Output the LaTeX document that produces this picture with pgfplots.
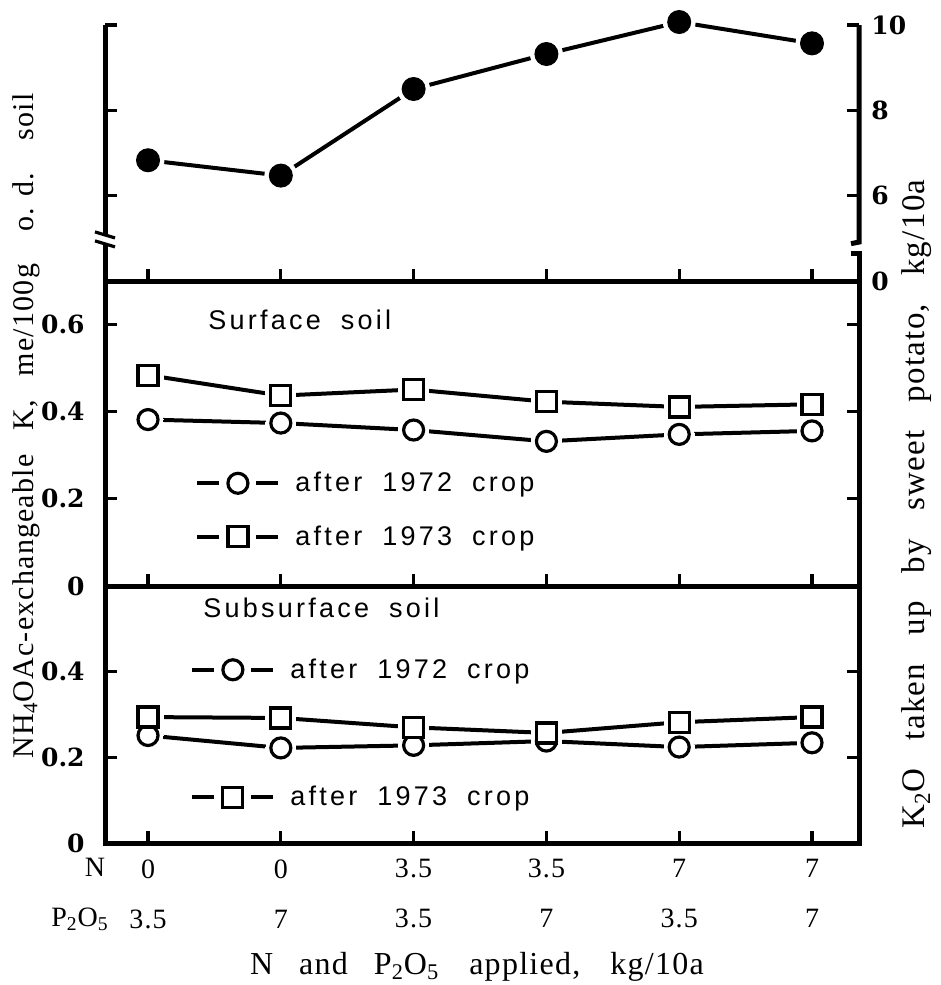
\documentclass[border=0pt]{standalone}
\usepackage{fontspec}
\setmainfont{Liberation Serif}
\newfontfamily\labfont[LetterSpace=12]{Liberation Sans}
\newfontfamily\tickfont{DejaVu Serif}
\newfontfamily\axfont[LetterSpace=4]{Liberation Serif}
\usepackage{pgfplots}
\usepackage{pgfplotstable}
\pgfplotsset{compat=1.18}

\pgfplotstableread{
x k
0 6.83
1 6.47
2 8.50
3 9.32
4 10.07
5 9.57
}\toptab
\pgfplotstableread{
x c72 c73
0 0.382 0.484
1 0.374 0.437
2 0.358 0.451
3 0.332 0.423
4 0.348 0.411
5 0.356 0.417
}\surftab
\pgfplotstableread{
x c72 c73
0 0.251 0.294
1 0.222 0.292
2 0.228 0.270
3 0.238 0.257
4 0.224 0.282
5 0.234 0.294
}\subtab

\tikzset{legfont/.style={font=\labfont\fontsize{13.5}{16}\selectfont}}
\pgfplotsset{
  panel/.style={scale only axis, width=377pt, xmin=-0.324, xmax=5.354,
    xtick={0,1,2,3,4,5}, xtick pos=left, tick align=inside,
    major tick length=6pt, axis line style={line width=2.5pt},
    every tick/.style={black, line width=1.6pt},
    clip=false,
    yticklabel style={font=\tickfont\bfseries\fontsize{12.5}{14}\selectfont, inner sep=0pt}},
  dline/.style={black, line width=2pt, no markers, forget plot},
  leg/.style={legend image code/.code={
      \draw[line width=2pt] (0pt,0pt) -- (11pt,0pt);
      \draw[line width=2pt] (29.5pt,0pt) -- (40.5pt,0pt);
      \draw[##1] plot coordinates {(20.25pt,0pt)};}},
  ocirc/.style={only marks, mark=*, mark size=5pt, mark options={fill=white, draw=black, line width=1.6pt}, leg},
  osq/.style={only marks, mark=square*, mark size=5pt, mark options={fill=white, draw=black, line width=1.6pt}, leg},
  hcirc/.style={only marks, mark=*, mark size=7.5pt, mark options={fill=white, draw=white, line width=0pt}, forget plot},
  hsq/.style={only marks, mark=square*, mark size=7.5pt, mark options={fill=white, draw=white, line width=0pt}, forget plot},
}

\begin{document}
\begin{tikzpicture}
\path[use as bounding box] (0,0) rectangle (470.5pt,-492.5pt);

% ---------- top panel: K2O uptake ----------
\begin{axis}[panel, at={(52.5pt,-140.5pt)}, anchor=south west, height=128pt,
  ymin=4, ymax=10, ytick={6,8,10}, yticklabels={6,8,10},
  yticklabel pos=right, yticklabel style={anchor=west, xshift=6pt},
  extra y ticks={4}, extra y tick labels={0}, extra y tick style={major tick length=0pt},
  xticklabels={}, axis line style={draw=none}]
  \draw[line width=2.5pt] (rel axis cs:0,1) -- (rel axis cs:0,0.18);
  \draw[line width=2.5pt] (rel axis cs:0,0.145) -- (rel axis cs:0,0);
  \draw[line width=1.6pt] ([shift={(-5pt,1.5pt)}]rel axis cs:0,0.18) -- ++(10pt,-3pt);
  \draw[line width=1.6pt] ([shift={(-5pt,1.5pt)}]rel axis cs:0,0.145) -- ++(10pt,-3pt);
  \draw[line width=2.5pt] (rel axis cs:1,1) -- (rel axis cs:1,0.152) -- ++(-4pt,-0.8pt);
  \draw[line width=2.5pt] ([xshift=-4pt]rel axis cs:1,0.108) -- (rel axis cs:1,0.108) -- (rel axis cs:1,0);
  \addplot[dline] table[x=x, y=k] {\toptab};
  \addplot[only marks, mark=*, mark size=8pt, mark options={fill=white, draw=white}, forget plot] table[x=x, y=k] {\toptab};
  \addplot[only marks, mark=*, mark size=5.7pt, mark options={fill=black, draw=black, line width=0.6pt}] table[x=x, y=k] {\toptab};
\end{axis}

% ---------- middle panel: surface soil ----------
\begin{axis}[panel, at={(52.5pt,-293pt)}, anchor=south west, height=152.5pt,
  ymin=0, ymax=0.7, ytick={0,0.2,0.4,0.6}, yticklabels={0,0.2,0.4,0.6},
  yticklabel pos=left, yticklabel style={anchor=east, xshift=-10pt},
  xticklabels={},
  legend style={draw=none, fill=none, at={(0.1194,0.249)}, anchor=west, inner sep=0pt,
    row sep=15.5pt, column sep=7.5pt, nodes={inner sep=0pt}, legfont},
  legend cell align=left]
  \addplot[dline] table[x=x, y=c72] {\surftab};
  \addplot[dline] table[x=x, y=c73] {\surftab};
  \addplot[hcirc] table[x=x, y=c72] {\surftab};
  \addplot[hsq] table[x=x, y=c73] {\surftab};
  \addplot[ocirc] table[x=x, y=c72] {\surftab};
  \addlegendentry{after\hspace{10pt}1972\hspace{10pt}crop}
  \addplot[osq] table[x=x, y=c73] {\surftab};
  \addlegendentry{after\hspace{10pt}1973\hspace{10pt}crop}
\end{axis}

% ---------- bottom panel: subsurface soil ----------
\begin{axis}[panel, at={(52.5pt,-421.5pt)}, anchor=south west, height=128.5pt,
  ymin=0, ymax=0.6, ytick={0,0.2,0.4}, yticklabels={0,0.2,0.4},
  yticklabel pos=left, yticklabel style={anchor=east, xshift=-10pt},
  xticklabels={{0\\3.5},{0\\7},{3.5\\3.5},{3.5\\7},{7\\3.5},{7\\7}},
  xticklabel style={align=center, anchor=north, inner sep=0pt, yshift=-8pt,
    font=\axfont\fontsize{14}{25}\selectfont},
  legend style={draw=none, fill=none, at={(0.1127,0.426)}, anchor=west, inner sep=0pt,
    row sep=52.5pt, column sep=7.5pt, nodes={inner sep=0pt}, legfont},
  legend cell align=left]
  \addplot[dline] table[x=x, y=c72] {\subtab};
  \addplot[dline] table[x=x, y=c73] {\subtab};
  \addplot[hcirc] table[x=x, y=c72] {\subtab};
  \addplot[hsq] table[x=x, y=c73] {\subtab};
  \addplot[ocirc] table[x=x, y=c72] {\subtab};
  \addlegendentry{after\hspace{10pt}1972\hspace{10pt}crop}
  \addplot[osq] table[x=x, y=c73] {\subtab};
  \addlegendentry{after\hspace{10pt}1973\hspace{10pt}crop}
\end{axis}

% ---------- texts ----------
\node[anchor=west, inner sep=0pt, legfont] at (104pt,-160pt) {Surface\hspace{10pt}soil};
\node[anchor=west, inner sep=0pt, legfont] at (101.5pt,-304pt) {Subsurface\hspace{10pt}soil};
\node[anchor=base, font=\axfont\fontsize{14}{16}\selectfont] at (47.5pt,-438pt) {N};
\node[anchor=base, font=\axfont\fontsize{14}{16}\selectfont] at (40pt,-463pt) {P\textsubscript{2}O\textsubscript{5}};
\node[anchor=center, font=\axfont\fontsize{16}{18}\selectfont] at (238.5pt,-483.5pt)
  {N\hspace{13pt}and\hspace{13pt}P\textsubscript{2}O\textsubscript{5}\hspace{15pt}applied,\hspace{15pt}kg/10a};
\node[rotate=90, anchor=center, font=\axfont\fontsize{15}{17}\selectfont] at (13pt,-213pt)
  {NH\textsubscript{4}OAc-exchangeable\hspace{12pt}K,\hspace{12pt}me/100g\hspace{16pt}o.\hspace{6pt}d.\hspace{16pt}soil};
\node[rotate=90, anchor=center, font=\axfont\fontsize{16.5}{18}\selectfont] at (458.5pt,-252pt)
  {K\textsubscript{2}O\hspace{14pt}taken\hspace{14pt}up\hspace{14pt}by\hspace{14pt}sweet\hspace{14pt}potato,\hspace{14pt}kg/10a};
\end{tikzpicture}
\end{document}
